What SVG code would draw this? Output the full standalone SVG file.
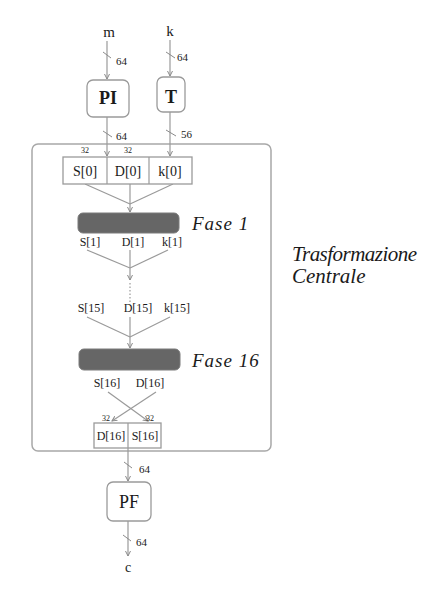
<svg xmlns="http://www.w3.org/2000/svg" width="445" height="591" viewBox="0 0 445 591">
<style>
.ln{stroke:#9a9a9a;stroke-width:1.2;fill:none}
.tk{stroke:#8a8a8a;stroke-width:1;fill:none}
.box{fill:#fff;stroke:#9a9a9a;stroke-width:1.3}
.bar{fill:#666;stroke:#7a7a7a;stroke-width:1}
text{font-family:"Liberation Serif","Times New Roman",serif;fill:#1a1a1a}
.n{font-size:11px}
.s{font-size:8px}
.lb{font-size:12px;text-anchor:middle}
.lb0{font-size:14px;text-anchor:middle}
.big{font-size:18px;text-anchor:middle}
.it{font-style:italic}
</style>
<defs>
<marker id="ah" markerWidth="6" markerHeight="6" refX="5" refY="3" orient="auto" markerUnits="userSpaceOnUse">
<path d="M0,0.5 L5,3 L0,5.5" fill="none" stroke="#8a8a8a" stroke-width="1"/>
</marker>
</defs>
<rect id="outer" x="32" y="144" width="239" height="307" rx="6" fill="none" stroke="#a8a8a8" stroke-width="1.5"/>
<text x="292" y="261" class="it" font-size="21" textLength="125">Trasformazione</text>
<text x="292" y="283" class="it" font-size="21">Centrale</text>
<g id="connectors">
<line class="ln" x1="107" y1="41" x2="107" y2="79" marker-end="url(#ah)"/>
<line class="ln" x1="170" y1="40" x2="170" y2="76" marker-end="url(#ah)"/>
<line class="ln" x1="107" y1="117" x2="107" y2="156" marker-end="url(#ah)"/>
<line class="ln" x1="170" y1="112" x2="170" y2="156" marker-end="url(#ah)"/>
<line class="ln" x1="85" y1="184" x2="130" y2="204"/>
<line class="ln" x1="173" y1="184" x2="130" y2="204"/>
<line class="ln" x1="130" y1="184" x2="130" y2="212" marker-end="url(#ah)"/>
<line class="ln" x1="87" y1="250" x2="130" y2="268"/>
<line class="ln" x1="168" y1="250" x2="130" y2="268"/>
<line class="ln" x1="130" y1="250" x2="130" y2="280" marker-end="url(#ah)"/>
<line class="ln" x1="130" y1="283" x2="130" y2="302" stroke-dasharray="1.5,2"/>
<line class="ln" x1="87" y1="317" x2="130" y2="337"/>
<line class="ln" x1="170" y1="317" x2="130" y2="337"/>
<line class="ln" x1="130" y1="317" x2="130" y2="348" marker-end="url(#ah)"/>
<line class="ln" x1="108" y1="392" x2="148" y2="421" marker-end="url(#ah)"/>
<line class="ln" x1="156" y1="392" x2="112" y2="421" marker-end="url(#ah)"/>
<line class="ln" x1="128" y1="448" x2="128" y2="481" marker-end="url(#ah)"/>
<line class="ln" x1="128" y1="521" x2="128" y2="556" marker-end="url(#ah)"/>
<line class="tk" x1="103" y1="52" x2="111" y2="58"/>
<line class="tk" x1="166" y1="52" x2="175" y2="58"/>
<line class="tk" x1="103" y1="131" x2="112" y2="137"/>
<line class="tk" x1="166" y1="130" x2="176" y2="136"/>
<line class="tk" x1="124" y1="462" x2="132" y2="468"/>
<line class="tk" x1="123" y1="535" x2="131" y2="541"/>
<text x="116" y="65" class="n">64</text>
<text x="177" y="61" class="n">64</text>
<text x="116" y="140" class="n">64</text>
<text x="181" y="138" class="n">56</text>
<text x="139" y="473" class="n">64</text>
<text x="136" y="546" class="n">64</text>
</g>
<g id="m"><text x="109" y="37" class="big" font-size="15" style="font-size:15px">m</text></g>
<g id="k"><text x="170" y="36" class="big" style="font-size:15px">k</text></g>
<g id="PI"><rect class="box" x="87" y="80" width="42" height="37" rx="6"/><text x="108" y="104" class="big" font-weight="bold">PI</text></g>
<g id="T"><rect class="box" x="157" y="77" width="28" height="35" rx="6"/><text x="171" y="103" class="big" font-weight="bold">T</text></g>
<g id="row0">
<rect class="box" x="63" y="157" width="129" height="27"/>
<line class="ln" x1="107" y1="157" x2="107" y2="184"/>
<line class="ln" x1="149" y1="157" x2="149" y2="184"/>
<text x="85" y="176" class="lb0">S[0]</text>
<text x="128" y="176" class="lb0">D[0]</text>
<text x="170" y="176" class="lb0">k[0]</text>
<text x="85" y="153" class="s" text-anchor="middle">32</text>
<text x="128" y="153" class="s" text-anchor="middle">32</text>
</g>
<g id="fase1">
<rect class="bar" x="78" y="213" width="101" height="20" rx="5"/>
<text x="192" y="230" class="it" font-size="19" letter-spacing="1">Fase 1</text>
</g>
<g id="row1">
<text x="90" y="246" class="lb">S[1]</text>
<text x="133" y="246" class="lb">D[1]</text>
<text x="172" y="246" class="lb">k[1]</text>
</g>
<g id="row15">
<text x="91" y="312" class="lb">S[15]</text>
<text x="138" y="312" class="lb">D[15]</text>
<text x="177" y="312" class="lb">k[15]</text>
</g>
<g id="fase16">
<rect class="bar" x="79" y="349" width="101" height="21" rx="5"/>
<text x="192" y="367" class="it" font-size="19" letter-spacing="1">Fase 16</text>
</g>
<g id="row16">
<text x="107" y="387" class="lb">S[16]</text>
<text x="150" y="387" class="lb">D[16]</text>
</g>
<g id="swap">
<rect class="box" x="94" y="423" width="67" height="25"/>
<line class="ln" x1="128" y1="423" x2="128" y2="448"/>
<text x="111" y="440" class="lb">D[16]</text>
<text x="145" y="440" class="lb">S[16]</text>
<text x="106" y="421" class="s" text-anchor="middle">32</text>
<text x="150" y="421" class="s" text-anchor="middle">32</text>
</g>
<g id="PF"><rect class="box" x="107" y="482" width="44" height="39" rx="6"/><text x="129" y="508" class="big">PF</text></g>
<g id="c"><text x="128" y="572" class="lb" style="font-size:14px">c</text></g>
</svg>
